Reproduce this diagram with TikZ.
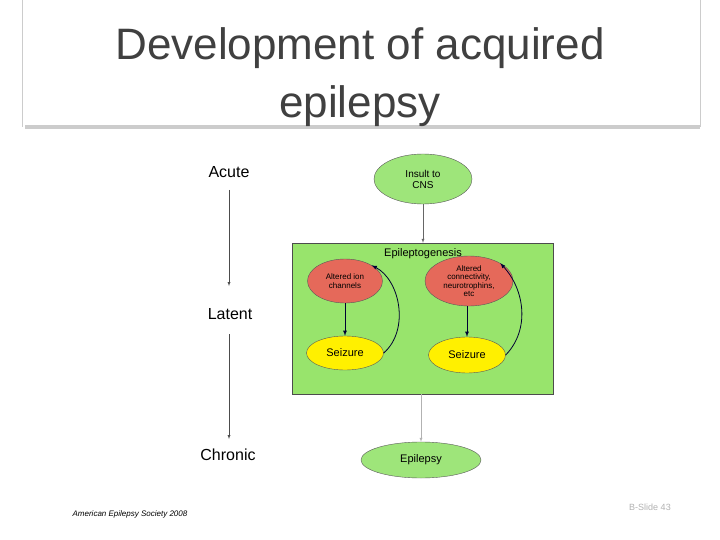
\documentclass[tikz,border=0pt]{standalone}
\usepackage{fontspec}
\setmainfont{Liberation Sans}
\usetikzlibrary{shapes.geometric}
\definecolor{leaf}{HTML}{9EE57A}
\definecolor{boxgreen}{HTML}{98E46C}
\definecolor{salmon}{HTML}{E5695A}
\definecolor{sun}{HTML}{FFF000}
\begin{document}
\begin{tikzpicture}[x=1pt,y=-1pt,
                    oval/.style={ellipse, draw=gray!70!black, inner sep=0pt, align=center, font=\fontsize{10}{11}\selectfont},
                    green_oval/.style={oval, fill=leaf},
                    red_oval/.style={oval, fill=salmon, font=\fontsize{8}{8.5}\selectfont},
                    yellow_oval/.style={oval, fill=sun, font=\fontsize{11}{12}\selectfont},
                    stage/.style={font=\fontsize{16}{18}\selectfont},
                    link/.style={->, >=latex, draw=black!80!blue, thick}
                ]
  \useasboundingbox (0,0) rectangle (720,540);
  \fill[white] (0,0) rectangle (720,540);
  % title
  \draw[gray!40] (22,0) -- (22,127);
  \draw[gray!40] (700,0) -- (700,127);
  \draw[gray!40, line width=4pt] (25,127) -- (700,127);
  \node[font=\fontsize{44}{58}\selectfont, align=center, text=black!75] (title) at (360,77) {Development of acquired\\epilepsy};
  % stages
  \node[stage] (acute) at (229,172) {Acute};
  \node[stage] (latent) at (230,314) {Latent};
  \node[stage] (chronic) at (228,455) {Chronic};
  \coordinate (a1) at (229,190);
  \coordinate (a2) at (229,286);
  \coordinate (b1) at (229,334);
  \coordinate (b2) at (229,439);
  \draw[->, >=latex, black!70] (a1) -- (a2);
  \draw[->, >=latex, black!70] (b1) -- (b2);
  % diagram
  \node[green_oval, minimum width=98pt, minimum height=50pt] (insult) at (423,179) {Insult to\\CNS};
  \node[draw=gray!60!black, fill=boxgreen, minimum width=261pt, minimum height=151pt] (box) at (422.5,318.5) {};
  \node[font=\fontsize{11}{12}\selectfont] (epi) at (423,254) {Epileptogenesis};
  \node[red_oval, minimum width=75pt, minimum height=44pt] (ion) at (345,281) {Altered ion\\channels};
  \node[red_oval, minimum width=88pt, minimum height=50pt] (conn) at (469,281) {Altered\\connectivity,\\neurotrophins,\\etc};
  \node[yellow_oval, minimum width=77pt, minimum height=34pt] (seizA) at (345,353) {Seizure};
  \node[yellow_oval, minimum width=77pt, minimum height=36pt] (seizB) at (467,355) {Seizure};
  \node[green_oval, minimum width=120pt, minimum height=36pt, font=\fontsize{11}{12}\selectfont] (epilepsy) at (421,460) {Epilepsy};
  \draw[link, thin, black!60] (insult) -- (box.north -| insult);
  \draw[link] (ion) -- (seizA);
  \draw[link] (conn.south -| seizB) -- (seizB);
  \draw[link] (seizA.east) .. controls (410,330) and (400,280) .. (ion.north east);
  \draw[link] (seizB.east) .. controls (530,330) and (525,290) .. (conn.north east);
  \draw[->, >=latex, black!30] (box.south -| epilepsy) -- (epilepsy);
  % footer
  \node[font=\fontsize{8}{9}\selectfont\itshape] (source) at (130,514) {American Epilepsy Society 2008};
  \node[font=\fontsize{9}{10}\selectfont, text=gray!60] (slide) at (650,507) {B-Slide 43};
\end{tikzpicture}
\end{document}
